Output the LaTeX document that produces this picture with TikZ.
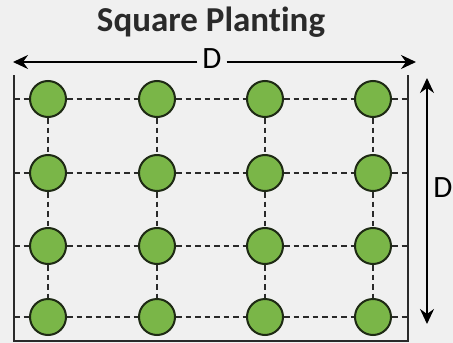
\documentclass[tikz,border=0pt]{standalone}
\usepackage{fontspec}
\setmainfont[Ligatures=NoCommon]{Carlito}
\usetikzlibrary{arrows.meta}
\definecolor{bg}{HTML}{F0F0F0}
\definecolor{leaf}{HTML}{7AB648}
\definecolor{rim}{HTML}{1E2A14}
\definecolor{ink}{HTML}{2A2A2A}
\tikzset{
  plant/.style={circle,draw=rim,line width=2pt,fill=leaf,minimum size=36pt,inner sep=0pt},
  grid/.style={draw=ink,line width=1.6pt,dash pattern=on 5.5pt off 4pt},
  frame/.style={draw=ink,line width=1.8pt},
  tip/.tip={Stealth[length=15pt,width=14pt,inset=5pt]},
  dim/.style={draw=black,line width=1.8pt,-tip},
  dimlabel/.style={font=\fontsize{31}{31}\selectfont,text=black,inner sep=3pt}
}
\begin{document}
\begin{tikzpicture}[x=1pt,y=-1pt]
\fill[bg] (0,0) rectangle (453,343);
\useasboundingbox (0,0) rectangle (453,343);
\node[font=\bfseries\fontsize{35}{35}\selectfont,text=ink] (title) at (211,22) {Square Planting};
% frame
\coordinate (fTL) at (14,75);
\coordinate (fBL) at (14,341);
\coordinate (fBR) at (408,341);
\coordinate (fTR) at (408,75);
\draw[frame] (fTL) -- (fBL) -- (fBR) -- (fTR);
% plants
\foreach \c/\x in {1/48,2/157,3/265,4/373}{
  \foreach \r/\y in {1/99,2/173,3/246,4/317}{
    \node[plant] (p\r\c) at (\x,\y) {};
  }
}
% horizontal dashed lines
\foreach \r/\y in {1/99,2/173,3/246,4/317}{
  \coordinate (L\r) at (14,\y);
  \coordinate (R\r) at (408,\y);
  \draw[grid] (L\r) -- (p\r1);
  \draw[grid] (p\r1) -- (p\r2);
  \draw[grid] (p\r2) -- (p\r3);
  \draw[grid] (p\r3) -- (p\r4);
  \draw[grid] (p\r4) -- (R\r);
}
% vertical dashed lines
\foreach \c in {1,2,3,4}{
  \draw[grid] (p1\c) -- (p2\c);
  \draw[grid] (p2\c) -- (p3\c);
  \draw[grid] (p3\c) -- (p4\c);
}
% horizontal dimension
\node[dimlabel,inner xsep=5pt] (dh) at (212,59) {D};
\coordinate (hl) at (13,62);
\coordinate (hr) at (416,62);
\draw[dim] (dh.west |- hl) -- (hl);
\draw[dim] (dh.east |- hr) -- (hr);
% vertical dimension
\coordinate (vt) at (427,78);
\coordinate (vb) at (427,324);
\draw[dim,tip-tip] (vt) -- (vb);
\node[dimlabel] (dv) at (443,188) {D};
\end{tikzpicture}
\end{document}
